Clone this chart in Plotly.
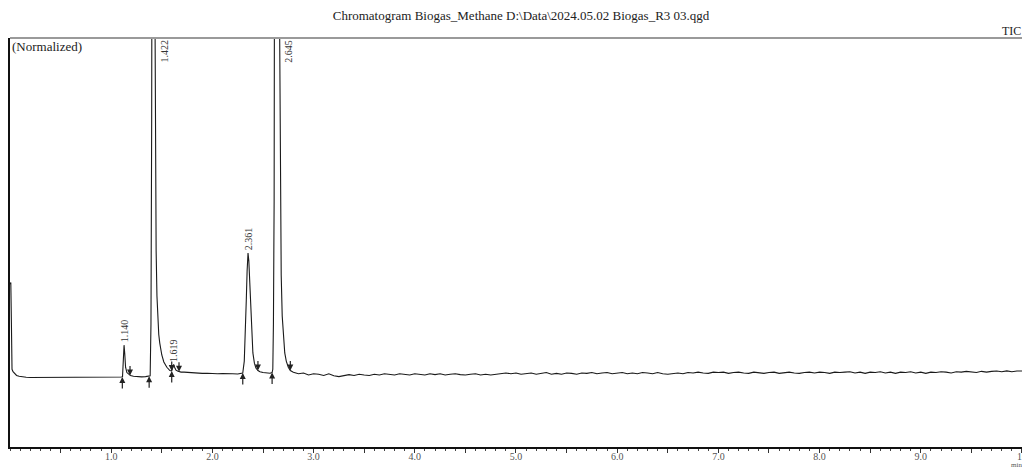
import plotly.graph_objects as go

# ---------------- data ----------------
time_min = [
    0.000, 0.008, 0.014, 0.020, 0.030, 0.045, 0.065, 0.090, 0.120, 0.160, 0.200,
    0.25, 0.30, 0.35, 0.40, 0.45, 0.50, 0.55, 0.60, 0.65, 0.70, 0.75, 0.80, 0.85,
    0.90, 0.95, 1.00, 1.05, 1.08,
    1.100, 1.112, 1.120, 1.127, 1.134, 1.142, 1.155, 1.170, 1.190, 1.220, 1.260,
    1.300, 1.340, 1.370, 1.385,
    1.393, 1.400, 1.407, 1.415, 1.425, 1.432, 1.438, 1.444, 1.452, 1.460, 1.470,
    1.480, 1.500, 1.520, 1.550, 1.580, 1.598, 1.608, 1.617, 1.626, 1.640, 1.660,
    1.690, 1.720, 1.760, 1.800, 1.850, 1.900, 1.950, 2.000, 2.050, 2.100, 2.150,
    2.200, 2.250, 2.280, 2.300,
    2.315, 2.325, 2.335, 2.343, 2.352, 2.360, 2.370, 2.380, 2.390, 2.400, 2.415,
    2.430, 2.450, 2.470, 2.500, 2.540, 2.570, 2.590,
    2.597, 2.603, 2.610, 2.618, 2.635, 2.655, 2.665, 2.672, 2.680, 2.690, 2.700,
    2.715, 2.730, 2.750, 2.770, 2.800,
    2.85, 2.90, 2.95, 3.00, 3.05, 3.10, 3.15, 3.20, 3.25, 3.30, 3.35, 3.40, 3.45,
    3.50, 3.55, 3.60, 3.65, 3.70, 3.75, 3.80, 3.85, 3.90, 3.95, 4.00, 4.05, 4.10,
    4.15, 4.20, 4.25, 4.30, 4.35, 4.40, 4.45, 4.50, 4.55, 4.60, 4.65, 4.70, 4.75,
    4.80, 4.85, 4.90, 4.95, 5.00, 5.05, 5.10, 5.15, 5.20, 5.25, 5.30, 5.35, 5.40,
    5.45, 5.50, 5.55, 5.60, 5.65, 5.70, 5.75, 5.80, 5.85, 5.90, 5.95, 6.00, 6.05,
    6.10, 6.15, 6.20, 6.25, 6.30, 6.35, 6.40, 6.45, 6.50, 6.55, 6.60, 6.65, 6.70,
    6.75, 6.80, 6.85, 6.90, 6.95, 7.00, 7.05, 7.10, 7.15, 7.20, 7.25, 7.30, 7.35,
    7.40, 7.45, 7.50, 7.55, 7.60, 7.65, 7.70, 7.75, 7.80, 7.85, 7.90, 7.95, 8.00,
    8.05, 8.10, 8.15, 8.20, 8.25, 8.30, 8.35, 8.40, 8.45, 8.50, 8.55, 8.60, 8.65,
    8.70, 8.75, 8.80, 8.85, 8.90, 8.95, 9.00, 9.05, 9.10, 9.15, 9.20, 9.25, 9.30,
    9.35, 9.40, 9.45, 9.50, 9.55, 9.60, 9.65, 9.70, 9.75, 9.80, 9.85, 9.90, 9.95,
    10.00,
]
intensity = [
    39.8, 40.2, 30.0, 19.0, 18.4, 17.9, 17.5, 17.3, 17.15, 17.05, 17.0,
    17.0, 16.95, 17.0, 17.0, 16.95, 17.0, 17.0, 16.95, 17.0, 17.05, 17.0, 17.0, 17.05,
    17.0, 17.1, 17.05, 17.1, 17.05,
    17.1, 17.2, 20.5, 24.9, 22.8, 19.5, 18.2, 17.8, 17.5, 17.3, 17.2,
    17.15, 17.2, 17.25, 17.4,
    30.0, 80.0, 200.0, 260.0, 200.0, 110.0, 70.0, 48.0, 37.0, 31.0, 27.5,
    25.4, 22.5, 20.8, 19.5, 18.7, 18.6, 19.6, 20.2, 19.5, 18.8, 18.5,
    18.3, 18.3, 18.2, 18.1, 18.1, 18.0, 18.05, 17.95, 17.9, 17.95, 17.85,
    17.9, 17.85, 17.9, 18.1,
    21.0, 27.0, 36.0, 43.0, 47.4, 45.5, 39.0, 32.0, 26.5, 23.0, 20.5,
    19.3, 18.7, 18.4, 18.2, 18.1, 18.05, 18.2,
    19.0, 30.0, 60.0, 200.0, 260.0, 200.0, 100.0, 60.0, 42.0, 32.0, 27.0,
    23.0, 21.0, 19.5, 18.7, 18.3,
    17.9, 18.1, 17.6, 17.9, 17.8, 17.5, 17.9, 17.4, 17.2, 17.5, 17.7, 17.5, 17.8,
    17.6, 17.5, 17.8, 17.6, 17.9, 17.7, 17.6, 17.9, 17.7, 17.6, 17.9, 17.7, 17.6,
    17.9, 17.7, 17.9, 17.6, 17.8, 17.9, 17.7, 17.6, 17.8, 17.9, 17.6, 17.8, 17.6,
    17.8, 17.9, 18.1, 17.9, 18.1, 17.8, 18.0, 18.1, 17.8, 18.0, 18.2, 17.8, 18.0,
    17.8, 18.1, 18.0, 17.8, 18.1, 18.0, 18.2, 17.9, 18.1, 18.2, 17.9, 18.1, 18.2,
    17.9, 18.1, 17.9, 18.2, 18.1, 17.9, 18.2, 17.9, 17.8, 18.0, 18.1, 17.9, 18.2,
    18.1, 18.3, 18.1, 18.0, 18.3, 18.2, 18.3, 18.0, 18.2, 18.3, 18.1, 18.0, 18.3,
    18.2, 18.0, 18.2, 18.3, 18.0, 18.2, 18.3, 18.1, 18.0, 18.2, 18.3, 18.1, 18.3,
    18.2, 18.0, 18.3, 18.2, 18.3, 18.4, 18.1, 18.3, 18.0, 18.3, 18.2, 18.4, 18.1,
    18.3, 18.0, 18.3, 18.2, 18.4, 18.1, 18.3, 18.0, 18.3, 18.2, 18.4, 18.3, 18.1,
    18.4, 18.3, 18.5, 18.3, 18.2, 18.5, 18.3, 18.5, 18.6, 18.4, 18.6, 18.4, 18.6,
    18.6,
]

# retention-time labels of the peaks
peak_labels = ["1.140", "1.422", "1.619", "2.361", "2.645"]
peak_time = [1.127, 1.418, 1.617, 2.352, 2.635]
peak_height = [24.9, 260.0, 20.2, 47.4, 260.0]

# integration markers (peak start = upward arrow, peak end = downward arrow)
start_time = [1.11, 1.375, 1.598, 2.30, 2.59]
start_level = [17.1, 17.3, 18.6, 18.1, 18.2]
end_time = [1.186, 1.598, 1.67, 2.45, 2.77]
end_level = [17.5, 18.6, 18.4, 18.7, 18.7]

x_tick_vals = [0.5, 1.0, 1.5, 2.0, 2.5, 3.0, 3.5, 4.0, 4.5, 5.0,
               5.5, 6.0, 6.5, 7.0, 7.5, 8.0, 8.5, 9.0, 9.5, 10.0]
x_tick_text = ["", "1.0", "", "2.0", "", "3.0", "", "4.0", "", "5.0",
               "", "6.0", "", "7.0", "", "8.0", "", "9.0", "", "10"]

Y_MAX = 100.0
SERIF = "Liberation Serif, Times New Roman, serif"

# the page body keeps an 8 px default margin, so the figure is 8 px smaller
FIG_W, FIG_H = 1022, 460

# ---------------- figure ----------------
fig = go.Figure()
fig.add_trace(go.Scatter(
    x=time_min, y=intensity, mode="lines",
    line=dict(color="#1a1a1a", width=1.1),
    hoverinfo="skip", showlegend=False,
))

annotations = []
for lab, t, h in zip(peak_labels, peak_time, peak_height):
    if h > Y_MAX:
        annotations.append(dict(
            x=t, y=0.968, xref="x", yref="paper", text=lab, textangle=-90,
            showarrow=False, xshift=11, xanchor="center", yanchor="middle",
            font=dict(family=SERIF, size=10, color="#333")))
    else:
        annotations.append(dict(
            x=t, y=h, xref="x", yref="y", text=lab, textangle=-90,
            showarrow=False, yshift=14, xanchor="center", yanchor="middle",
            font=dict(family=SERIF, size=10, color="#333")))

for t, lv in zip(start_time, start_level):
    annotations.append(dict(
        x=t, y=lv, xref="x", yref="y", ax=0, ay=13, axref="pixel", ayref="pixel",
        showarrow=True, arrowhead=2, arrowsize=1.0, arrowwidth=1.2,
        arrowcolor="#222", text=""))
for t, lv in zip(end_time, end_level):
    annotations.append(dict(
        x=t, y=lv, xref="x", yref="y", ax=0, ay=-11, axref="pixel", ayref="pixel",
        showarrow=True, arrowhead=2, arrowsize=1.0, arrowwidth=1.2,
        arrowcolor="#222", text=""))

annotations += [
    dict(x=0.0, y=0.978, xref="paper", yref="paper", text="(Normalized)",
         showarrow=False, xanchor="left", yanchor="middle",
         font=dict(family=SERIF, size=13, color="#222")),
    dict(x=1.0, y=1.017, xref="paper", yref="paper", text="TIC",
         showarrow=False, xanchor="right", yanchor="middle",
         font=dict(family=SERIF, size=12, color="#222")),
    dict(x=0.994, y=-0.045, xref="paper", yref="paper", text="min",
         showarrow=False, xanchor="center", yanchor="middle",
         font=dict(family=SERIF, size=7, color="#555")),
]

fig.update_layout(
    width=FIG_W, height=FIG_H,
    margin=dict(l=2, r=7, t=30, b=21, autoexpand=False),
    paper_bgcolor="white", plot_bgcolor="white",
    title=dict(
        text="Chromatogram Biogas_Methane D:\\Data\\2024.05.02 Biogas_R3 03.qgd",
        x=0.502, xref="container", xanchor="center",
        y=0.984, yref="container", yanchor="middle",
        font=dict(family=SERIF, size=13, color="#222")),
    annotations=annotations,
    shapes=[
        dict(type="line", xref="paper", yref="paper", x0=0, x1=1, y0=1, y1=1,
             line=dict(color="#9a9a9a", width=2)),
        dict(type="line", xref="paper", yref="paper", x0=1, x1=1, y0=0, y1=1,
             line=dict(color="#111", width=1.5)),
    ],
)
fig.update_xaxes(
    range=[0, 10.01], showgrid=False, zeroline=False, automargin=False,
    showline=True, linecolor="#111", linewidth=2,
    ticks="outside", ticklen=4, tickwidth=1, tickcolor="#333",
    tickvals=x_tick_vals, ticktext=x_tick_text, ticklabelstandoff=-5,
    ticklabeloverflow="allow",
    tickfont=dict(family=SERIF, size=10, color="#555"),
    minor=dict(dtick=0.1, ticks="outside", ticklen=2, tickcolor="#444", tickwidth=1),
)
fig.update_yaxes(
    range=[0, Y_MAX], showgrid=False, zeroline=False, automargin=False,
    showline=True, linecolor="#111", linewidth=2,
    ticks="", showticklabels=False,
)

fig.write_html("out.html")
